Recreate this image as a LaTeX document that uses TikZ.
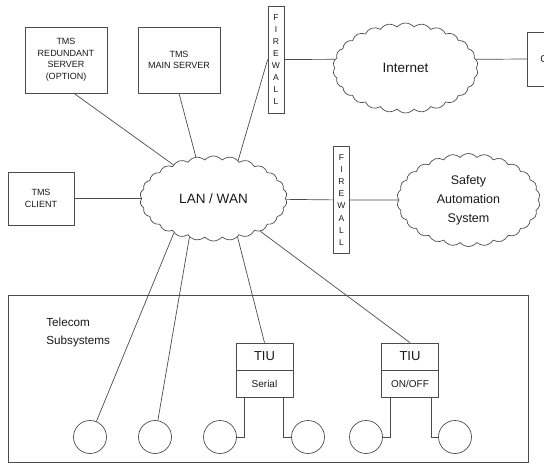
\documentclass[tikz,border=0pt]{standalone}
\usepackage{fontspec}
\setmainfont{Liberation Sans}
\usetikzlibrary{positioning,shapes.symbols}

\begin{document}
\begin{tikzpicture}[x=1pt, y=-1pt, line width=0.7pt, color=black!70,
				every node/.style={text=black!90},
				boxnode/.style={rectangle, draw, align=center, font=\fontsize{9}{11.5}\selectfont},
				wallnode/.style={rectangle, draw, minimum width=16pt, minimum height=107pt, inner sep=0pt, align=center, font=\fontsize{8.5}{12.1}\selectfont},
				cloudnode/.style={cloud, draw, cloud puffs=26, cloud puff arc=100, aspect=1.7, align=center, font=\fontsize{13.5}{16}\selectfont},
				tiunode/.style={rectangle, draw, minimum width=57pt, minimum height=27pt, inner sep=0pt},
				termnode/.style={circle, draw, minimum size=33pt, inner sep=0pt}
			]

			\useasboundingbox (0,0) rectangle (544,463);

			% servers and clients
			\node[boxnode, minimum width=82pt, minimum height=66pt] (redserver) at (66,60) {TMS\\REDUNDANT\\SERVER\\(OPTION)};
			\node[boxnode, minimum width=82pt, minimum height=66pt] (mainserver) at (179,60) {TMS\\MAIN SERVER};
			\node[boxnode, minimum width=66pt, minimum height=53pt] (client) at (41,198.5) {TMS\\CLIENT};
			\node[boxnode, anchor=west, minimum height=54pt, text width=40pt, inner xsep=13pt, align=left, font=\fontsize{10}{12}\selectfont] (outside) at (527,59) {C};

			% firewalls
			\node[wallnode] (wall1) at (276,59.5) {F\\I\\R\\E\\W\\A\\L\\L};
			\node[wallnode] (wall2) at (341.5,200) {F\\I\\R\\E\\W\\A\\L\\L};

			% networks
			\node[cloudnode, minimum width=147pt, minimum height=85pt] (lan) at (213.5,198.5) {LAN / WAN};
			\node[cloudnode, minimum width=145pt, minimum height=90pt] (internet) at (405.5,68) {Internet};
			\node[cloudnode, minimum width=143pt, minimum height=93pt, font=\fontsize{12.5}{19}\selectfont] (safety) at (468.5,200) {Safety\\Automation\\System};

			% telecom subsystems
			\node[draw, anchor=north west, minimum width=520pt, minimum height=167pt, inner sep=0pt] (telecom) at (8,295) {};
			\node[anchor=north west, align=left, inner sep=0pt, font=\fontsize{11.7}{18}\selectfont] (telecomlabel) at (46,318) {Telecom\\Subsystems};

			\node[tiunode, font=\fontsize{13}{15}\selectfont] (tiu1) at (264.5,356.5) {TIU};
			\node[tiunode, font=\fontsize{10}{12}\selectfont] (serial) [below=0pt of tiu1] {Serial};
			\node[tiunode, font=\fontsize{13}{15}\selectfont] (tiu2) at (410,356.5) {TIU};
			\node[tiunode, font=\fontsize{10}{12}\selectfont] (onoff) [below=0pt of tiu2] {ON/OFF};

			\foreach \cx/\nm in {90/c1, 155/c2, 220/c3, 308/c4, 366/c5, 455/c6}
				\node[termnode] (\nm) at (\cx,437) {};

			% links
			\draw ([xshift=8pt]redserver.south) -- (lan.140);
			\draw (mainserver.south) -- (lan.113);
			\draw (wall1.west) -- (lan.57);
			\draw (wall1.east) -- (internet.173);
			\draw (internet.7) -- (outside.west);
			\draw (client) -- (lan);
			\draw (lan) -- (wall2) -- (safety);

			\draw (lan.221) -- (c1);
			\draw (lan.238) -- (c2);
			\draw (lan.302) -- (tiu1.north);
			\draw (lan.325) -- (tiu2.north);

			\draw ([xshift=-20pt]serial.south) |- (c3);
			\draw ([xshift=19pt]serial.south) |- (c4);
			\draw ([xshift=-20pt]onoff.south) |- (c5);
			\draw ([xshift=21pt]onoff.south) |- (c6);

		\end{tikzpicture}
\end{document}
